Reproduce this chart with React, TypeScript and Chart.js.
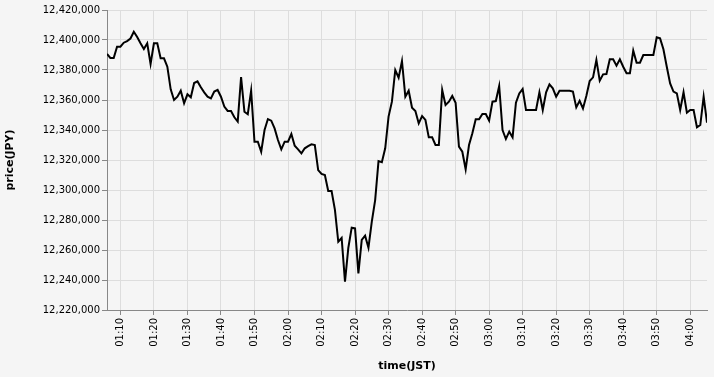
import { useEffect, useRef } from "react";
import { Chart, registerables } from "chart.js";

Chart.register(...registerables);

const times = [
  "01:06", "01:07", "01:08", "01:09", "01:10", "01:11", "01:12", "01:13", "01:14", "01:15", "01:16", "01:17", "01:18", "01:19",
  "01:20", "01:21", "01:22", "01:23", "01:24", "01:25", "01:26", "01:27", "01:28", "01:29",
  "01:30", "01:31", "01:32", "01:33", "01:34", "01:35", "01:36", "01:37", "01:38", "01:39",
  "01:40", "01:41", "01:42", "01:43", "01:44", "01:45", "01:46", "01:47", "01:48", "01:49",
  "01:50", "01:51", "01:52", "01:53", "01:54", "01:55", "01:56", "01:57", "01:58", "01:59",
  "02:00", "02:01", "02:02", "02:03", "02:04", "02:05", "02:06", "02:07", "02:08", "02:09",
  "02:10", "02:11", "02:12", "02:13", "02:14", "02:15", "02:16", "02:17", "02:18", "02:19",
  "02:20", "02:21", "02:22", "02:23", "02:24", "02:25", "02:26", "02:27", "02:28", "02:29",
  "02:30", "02:31", "02:32", "02:33", "02:34", "02:35", "02:36", "02:37", "02:38", "02:39",
  "02:40", "02:41", "02:42", "02:43", "02:44", "02:45", "02:46", "02:47", "02:48", "02:49",
  "02:50", "02:51", "02:52", "02:53", "02:54", "02:55", "02:56", "02:57", "02:58", "02:59",
  "03:00", "03:01", "03:02", "03:03", "03:04", "03:05", "03:06", "03:07", "03:08", "03:09",
  "03:10", "03:11", "03:12", "03:13", "03:14", "03:15", "03:16", "03:17", "03:18", "03:19",
  "03:20", "03:21", "03:22", "03:23", "03:24", "03:25", "03:26", "03:27", "03:28", "03:29",
  "03:30", "03:31", "03:32", "03:33", "03:34", "03:35", "03:36", "03:37", "03:38", "03:39",
  "03:40", "03:41", "03:42", "03:43", "03:44", "03:45", "03:46", "03:47", "03:48", "03:49",
  "03:50", "03:51", "03:52", "03:53", "03:54", "03:55", "03:56", "03:57", "03:58", "03:59",
  "04:00", "04:01", "04:02", "04:03", "04:04", "04:05",
];

const prices = [
  12390700, 12388000, 12388000, 12395500, 12395500, 12398200, 12399300, 12401000, 12405500, 12402000,
  12397800, 12394000, 12397800, 12384000, 12397800, 12397800, 12387800, 12387800, 12382200, 12367100,
  12360000, 12362200, 12366200, 12357800, 12363800, 12361800, 12371300, 12372400, 12368500, 12365100,
  12362200, 12361100, 12365600, 12366700, 12362200, 12355600, 12352700, 12352700, 12348500, 12345600,
  12375300, 12352200, 12350500, 12366200, 12332200, 12332200, 12325500, 12340000, 12347300, 12346200,
  12341100, 12333300, 12327100, 12332200, 12332200, 12337300, 12329500, 12327100, 12324400, 12327800,
  12329300, 12330500, 12330000, 12313300, 12310700, 12310000, 12299300, 12299300, 12286700, 12265500,
  12268000, 12238900, 12261500, 12274900, 12274400, 12244400, 12266700, 12269500, 12261500, 12278900,
  12293300, 12319300, 12318500, 12327800, 12348900, 12358900, 12380000, 12374900, 12386000, 12362200,
  12366200, 12354900, 12352700, 12344400, 12349300, 12346700, 12335100, 12335100, 12330000, 12330000,
  12366700, 12356700, 12358900, 12362700, 12358200, 12328900, 12325500, 12313800, 12330000, 12337800,
  12347100, 12347100, 12350700, 12350700, 12346200, 12358900, 12359300, 12369300, 12340000, 12334000,
  12338900, 12335100, 12358200, 12364400, 12367300, 12353300, 12353300, 12353300, 12353300, 12365100,
  12353300, 12365100, 12370400, 12367800, 12362200, 12366200, 12366200, 12366200, 12366200, 12365600,
  12355100, 12359500, 12354400, 12362700, 12372700, 12375100, 12386700, 12372900, 12377100, 12377300,
  12387100, 12387100, 12382900, 12387100, 12382200, 12377800, 12377800, 12392900, 12384900, 12384900,
  12390000, 12390000, 12390000, 12390000, 12401800, 12401100, 12393800, 12382200, 12371100, 12365600,
  12364400, 12353300, 12365100, 12351500, 12353300, 12353300, 12341800, 12343300, 12362200, 12344900,
];

const xTickLabels = [
  "01:10", "01:20", "01:30", "01:40", "01:50", "02:00", "02:10", "02:20", "02:30",
  "02:40", "02:50", "03:00", "03:10", "03:20", "03:30", "03:40", "03:50", "04:00",
];

const yMin = 12220000;
const yMax = 12420000;
const yStep = 20000;

const toMin = (s: string) => {
  const [h, m] = s.split(":").map(Number);
  return h * 60 + m;
};

export default function App() {
  const ref = useRef<HTMLCanvasElement>(null);

  useEffect(() => {
    document.body.style.margin = "0";
    document.body.style.background = "#f5f5f5";
    const font = { family: "'DejaVu Sans', sans-serif", size: 10 };
    const titleFont = { family: "'DejaVu Sans', sans-serif", size: 11, weight: "bold" as const };
    const chart = new Chart(ref.current!, {
      type: "line",
      data: {
        datasets: [
          {
            data: times.map((t, i) => ({ x: toMin(t), y: prices[i] })),
            borderColor: "#000",
            borderWidth: 2,
            pointRadius: 0,
            tension: 0,
            fill: false,
          },
        ],
      },
      options: {
        animation: false,
        responsive: false,
        maintainAspectRatio: false,
        layout: { padding: { left: 0, right: 7, top: 10, bottom: 0 } },
        plugins: { legend: { display: false }, tooltip: { enabled: false } },
        scales: {
          x: {
            type: "linear",
            min: toMin(times[0]),
            max: toMin(times[times.length - 1]),
            afterBuildTicks: (scale: any) => {
              scale.ticks = xTickLabels.map((l) => ({ value: toMin(l) }));
            },
            afterFit: (scale: any) => {
              scale.height = 67;
            },
            ticks: {
              autoSkip: false,
              maxRotation: 90,
              minRotation: 90,
              padding: 3,
              color: "#000",
              font,
              callback: (_v: any, i: number) => xTickLabels[i],
            },
            grid: { color: "#ddd", lineWidth: 1, tickColor: "#888", tickLength: 5 },
            border: { display: true, color: "#888", width: 1 },
            title: {
              display: true,
              text: "time(JST)",
              color: "#000",
              font: titleFont,
              padding: { top: 0, bottom: 4 },
            },
          },
          y: {
            type: "linear",
            min: yMin,
            max: yMax,
            afterFit: (scale: any) => {
              scale.width = 107;
            },
            ticks: {
              stepSize: yStep,
              padding: 2,
              color: "#000",
              font,
              callback: (v: any) => Number(v).toLocaleString("en-US"),
            },
            grid: { color: "#ddd", lineWidth: 1, tickColor: "#888", tickLength: 5 },
            border: { display: true, color: "#888", width: 1 },
            title: {
              display: true,
              text: "price(JPY)",
              color: "#000",
              font: titleFont,
              padding: { top: 4, bottom: 0 },
            },
          },
        },
      },
    });
    return () => chart.destroy();
  }, []);

  return (
    <div style={{ width: 714, height: 377, background: "#f5f5f5" }}>
      <canvas ref={ref} width={714} height={377} />
    </div>
  );
}
